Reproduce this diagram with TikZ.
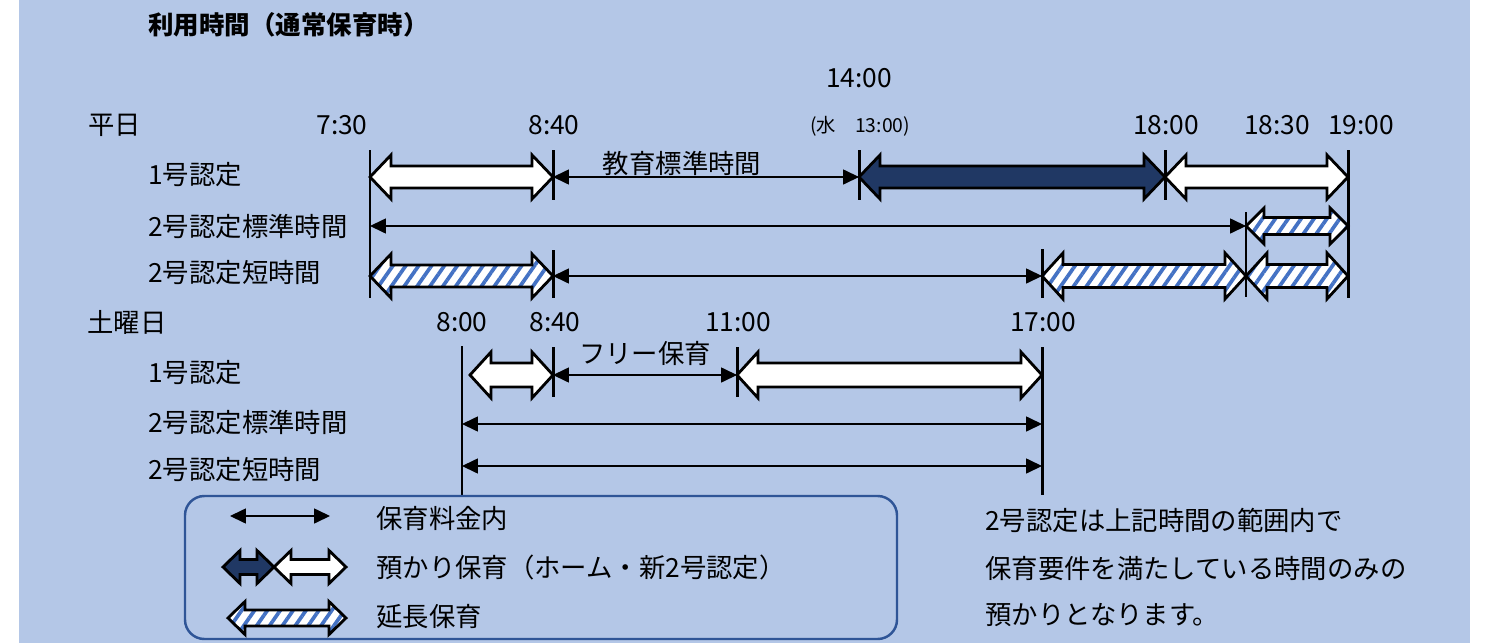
\documentclass[tikz,border=0pt]{standalone}
\usepackage{fontspec}
\setmainfont{Noto Sans CJK JP}
\usepackage{tikz}
\usetikzlibrary{arrows.meta,calc,patterns.meta,positioning}
\usepackage{xcolor}
\definecolor{bgblue}{HTML}{B4C7E7}
\definecolor{navyfill}{HTML}{203864}
\definecolor{stripeblue}{HTML}{4472C4}
\definecolor{boxblue}{HTML}{2F5597}

\tikzset{
  lbl/.style={inner sep=0pt, font=\fontsize{15pt}{18pt}\selectfont},
  smalllbl/.style={inner sep=0pt, font=\fontsize{11pt}{13pt}\selectfont},
  titlelbl/.style={inner sep=0pt, font=\fontsize{14.5pt}{17pt}\selectfont\bfseries},
  blk/.style={draw=black, line width=1.6pt, line join=miter},
  whitebox/.style={blk, fill=white},
  navybox/.style={blk, fill=navyfill},
  stripebox/.style={blk, preaction={fill=white},
    pattern={Lines[angle=55,distance=6pt,line width=2.1pt]}, pattern color=stripeblue},
  thinarr/.style={line width=0.7pt, {Triangle[length=9pt,width=8.5pt]}-{Triangle[length=9pt,width=8.5pt]}},
  tick/.style={line width=1.7pt},
  thintick/.style={line width=0.8pt}
}

% block double arrow: style, from, to, head length, head half, shaft half
\newcommand{\blockarr}[6][whitebox]{%
  \draw[#1] (#2) -- ($(#2)+(#4,-#5)$) -- ($(#2)+(#4,-#6)$) -- ($(#3)+(-#4,-#6)$)
    -- ($(#3)+(-#4,-#5)$) -- (#3) -- ($(#3)+(-#4,#5)$) -- ($(#3)+(-#4,#6)$)
    -- ($(#2)+(#4,#6)$) -- ($(#2)+(#4,#5)$) -- cycle;}

\begin{document}
\begin{tikzpicture}[x=0.2mm,y=-0.2mm]
\useasboundingbox (0,0) rectangle (1487,643);
\fill[bgblue] (19,0) rectangle (1470,643);

% times
\coordinate (t730) at (370,0);
\coordinate (t840) at (553,0);
\coordinate (t1400) at (859,0);
\coordinate (t1700) at (1042,0);
\coordinate (t1800) at (1165,0);
\coordinate (t1830) at (1246,0);
\coordinate (t1900) at (1348,0);
\coordinate (s800) at (462,0);
\coordinate (s1100) at (737,0);
% rows
\coordinate (w1) at (0,177);
\coordinate (w2) at (0,226);
\coordinate (w3) at (0,276);
\coordinate (s1) at (0,375);
\coordinate (s2) at (0,424);
\coordinate (s3) at (0,466);

% title and row labels
\node[titlelbl,anchor=west] (title) at (148,25) {利用時間（通常保育時）};
\node[lbl,anchor=west] (heijitsu) at (88,125) {平日};
\node[lbl,anchor=west] (wgo1) at (148,175) {1号認定};
\node[lbl,anchor=west] (wgo2std) at (148,226) {2号認定標準時間};
\node[lbl,anchor=west] (wgo2short) at (148,273) {2号認定短時間};
\node[lbl,anchor=west] (doyobi) at (87,322) {土曜日};
\node[lbl,anchor=west] (sgo1) at (148,373) {1号認定};
\node[lbl,anchor=west] (sgo2std) at (148,422) {2号認定標準時間};
\node[lbl,anchor=west] (sgo2short) at (148,470) {2号認定短時間};

% time labels
\node[lbl] (h730) at (342,125) {7:30};
\node[lbl] (h840) at (554,125) {8:40};
\node[lbl] (h1400) at (859,78) {14:00};
\node[smalllbl] (h1300) at (860,126) {(水　13:00)};
\node[lbl] (h1800) at (1166,125) {18:00};
\node[lbl] (h1830) at (1277,125) {18:30};
\node[lbl] (h1900) at (1361,125) {19:00};
\node[lbl] (hs800) at (462,322) {8:00};
\node[lbl] (hs840) at (555,322) {8:40};
\node[lbl] (hs1100) at (738,322) {11:00};
\node[lbl] (hs1700) at (1043,322) {17:00};

% weekday ticks
\draw[tick] (t730 |- 0,150) -- (t730 |- 0,298);
\draw[tick] (t840 |- 0,150) -- (t840 |- 0,200);
\draw[tick] (t840 |- 0,250) -- (t840 |- 0,298);
\draw[tick] (t1400 |- 0,150) -- (t1400 |- 0,200);
\draw[tick] (t1800 |- 0,150) -- (t1800 |- 0,200);
\draw[tick] (t1700 |- 0,249) -- (t1700 |- 0,298);
\draw[thintick] (t1830 |- 0,212) -- (t1830 |- 0,297);
\draw[tick] (t1900 |- 0,150) -- (t1900 |- 0,298);

% weekday rows
\blockarr{t730 |- w1}{t840 |- w1}{21}{22}{11}
\draw[thinarr] (t840 |- w1) -- (t1400 |- w1);
\node[lbl] (kyoiku) at (682,163) {教育標準時間};
\blockarr[navybox]{t1400 |- w1}{t1800 |- w1}{21}{22}{11}
\blockarr{t1800 |- w1}{t1900 |- w1}{21}{22}{11}

\draw[thinarr] (t730 |- w2) -- (t1830 |- w2);
\blockarr[stripebox]{t1830 |- w2}{t1900 |- w2}{18}{18}{8.5}

\blockarr[stripebox]{t730 |- w3}{t840 |- w3}{21}{22}{11}
\draw[thinarr] (t840 |- w3) -- (t1700 |- w3);
\blockarr[stripebox]{t1700 |- w3}{t1830 |- w3}{21}{23}{11.5}
\blockarr[stripebox]{t1830 |- w3}{t1900 |- w3}{21}{23}{11.5}

% saturday ticks
\draw[thintick] (s800 |- 0,346) -- (s800 |- 0,496);
\draw[tick] (t840 |- 0,347) -- (t840 |- 0,397);
\draw[tick] (s1100 |- 0,347) -- (s1100 |- 0,397);
\draw[tick] (t1700 |- 0,347) -- (t1700 |- 0,495);

% saturday rows
\coordinate (s1start) at (470,375);
\blockarr{s1start}{t840 |- s1}{21}{23}{12}
\draw[thinarr] (t840 |- s1) -- (s1100 |- s1);
\node[lbl] (free) at (645,353) {フリー保育};
\blockarr{s1100 |- s1}{t1700 |- s1}{21}{23}{12}
\draw[thinarr] (s800 |- s2) -- (t1700 |- s2);
\draw[thinarr] (s800 |- s3) -- (t1700 |- s3);

% legend
\draw[boxblue, line width=1.4pt, rounded corners=11pt] (185,496) rectangle (897,639);
\coordinate (lg1a) at (230,516);
\coordinate (lg1b) at (330,516);
\coordinate (lg2a) at (223,567);
\coordinate (lg2b) at (274,567);
\coordinate (lg2c) at (346,567);
\coordinate (lg3a) at (228,618);
\coordinate (lg3b) at (346,618);
\draw[thinarr] (lg1a) -- (lg1b);
\blockarr[navybox]{lg2a}{lg2b}{17}{16.5}{7.5}
\blockarr{lg2b}{lg2c}{17}{16.5}{7.5}
\blockarr[stripebox]{lg3a}{lg3b}{17}{16.5}{8}
\node[lbl,anchor=west] (lgfee) at (376,518) {保育料金内};
\node[lbl,anchor=west] (lgazukari) at (376,567) {預かり保育（ホーム・新2号認定）};
\node[lbl,anchor=west] (lgencho) at (376,617) {延長保育};

% note
\node[lbl,anchor=west] (note1) at (985,520) {2号認定は上記時間の範囲内で};
\node[lbl,anchor=west] (note2) at (985,568) {保育要件を満たしている時間のみの};
\node[lbl,anchor=west] (note3) at (985,615) {預かりとなります。};
\end{tikzpicture}
\end{document}
